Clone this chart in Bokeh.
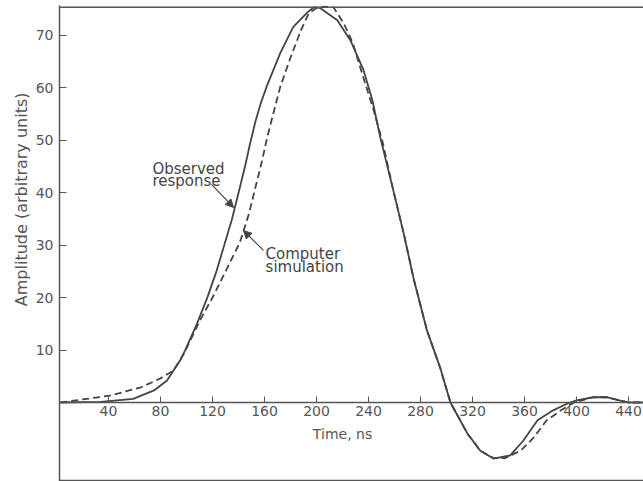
from bokeh.plotting import figure
from bokeh.models import Range1d, FixedTicker, Span, Label, Arrow, NormalHead, Title
from bokeh.embed import file_html
from bokeh.resources import INLINE

# Observed response (solid)
obs_x = [3, 34, 59, 75, 85, 95, 99, 108, 116, 123, 129, 135, 140, 145, 149, 153, 157, 162, 172, 182, 193, 198,
         203, 216, 226, 236, 243, 249, 259, 267, 275, 285, 295, 303, 316, 326, 336,
         349, 359, 370, 382, 393, 400, 413, 423, 433, 440, 451]
obs_y = [0, 0.1, 0.7, 2.3, 4.2, 8.0, 10.0, 15.0, 20.0, 25.0, 30.0, 35.0, 40.0, 45.0, 49.5, 53.6, 57.0, 60.5, 66.6, 71.6, 74.4, 75.4,
         75.2, 72.9, 69.1, 63.5, 57.6, 50.6, 40.5, 32.3, 23.3, 13.7, 6.7, 0.0, -5.9, -9.2, -10.7,
         -10.1, -7.3, -3.4, -1.5, -0.2, 0.4, 1.0, 1.0, 0.4, 0.0, 0.0]

# Computer simulation (dashed)
sim_x = [3, 41, 65, 80, 90, 98, 110, 121, 131, 141, 148, 153, 158, 162, 166, 172, 180, 188, 194, 201, 207,
         213, 221, 228, 236, 244, 251, 259, 267, 275, 285, 295, 303, 316, 326, 336, 345,
         357, 367, 377, 388, 398, 413, 423, 433, 440, 451]
sim_y = [0, 1.3, 2.9, 4.6, 6.1, 9.3, 15.5, 20.5, 25.5, 30.5, 36.0, 41.0, 46.0, 50.5, 54.4, 60.1, 65.8, 71.0, 74.2, 75.4, 75.5,
         75.4, 72.3, 68.5, 62.0, 55.7, 49.5, 40.5, 32.3, 23.3, 13.7, 6.7, 0.0, -5.9, -9.2, -10.6, -10.6,
         -9.2, -6.7, -3.4, -1.5, 0.0, 1.0, 1.0, 0.4, 0.0, 0.0]

x_ticks = [40, 80, 120, 160, 200, 240, 280, 320, 360, 400, 440]
y_ticks = [10, 20, 30, 40, 50, 60, 70]

INK = "#444444"
AXC = "#555555"
FONT = "DejaVu Sans"

p = figure(width=643, height=481, output_backend="svg", toolbar_location=None,
           x_range=Range1d(2.3, 451.5), y_range=Range1d(-15.07, 75.72),
           min_border_left=59, min_border_right=0, min_border_top=5, min_border_bottom=0,
           background_fill_color="white", border_fill_color="white")
p.outline_line_color = None
p.grid.visible = False

# y axis
ya = p.yaxis[0]
ya.ticker = FixedTicker(ticks=y_ticks)
ya.major_tick_in = 7
ya.major_tick_out = 0
ya.minor_tick_line_color = None
ya.axis_line_color = AXC
ya.axis_line_width = 1.5
ya.major_tick_line_color = AXC
ya.major_tick_line_width = 1.2
ya.major_label_text_font = FONT
ya.major_label_text_font_size = "14px"
ya.major_label_text_color = AXC
ya.major_label_standoff = 6

# y axis title (vertical, placed toward the top like the reference)
p.add_layout(Title(text="Amplitude (arbitrary units)", align="right", offset=87,
                   text_font=FONT, text_font_size="16px", text_font_style="normal",
                   text_color=AXC, standoff=4), "left")

# x axis at y = 0
xa = p.xaxis[0]
xa.fixed_location = 0
xa.ticker = FixedTicker(ticks=x_ticks)
xa.major_tick_in = 6
xa.major_tick_out = 0
xa.minor_tick_line_color = None
xa.axis_line_color = AXC
xa.axis_line_width = 1.5
xa.major_tick_line_color = AXC
xa.major_label_text_font = FONT
xa.major_label_text_font_size = "14px"
xa.major_label_text_color = AXC
xa.major_label_standoff = 4

p.add_layout(Label(x=220, y=-6.1, text="Time, ns", text_font=FONT, text_font_size="14px",
                   text_color=AXC, text_align="center", text_baseline="alphabetic"))

# frame lines
p.add_layout(Span(location=75.4, dimension="width", line_color=AXC, line_width=1.5))
p.add_layout(Span(location=-14.88, dimension="width", line_color=AXC, line_width=1.5))

p.line(obs_x, obs_y, line_color=INK, line_width=1.8)
p.line(sim_x, sim_y, line_color=INK, line_width=1.8, line_dash="7 4")

def lab(x, y, t):
    p.add_layout(Label(x=x, y=y, text=t, text_font=FONT, text_font_size="15px",
                       text_color=INK, text_align="left", text_baseline="alphabetic"))

lab(73.8, 44.6, "Observed")
lab(73.8, 42.2, "response")
lab(160.8, 28.4, "Computer")
lab(160.8, 25.8, "simulation")

p.add_layout(Arrow(x_start=119.2, y_start=41.6, x_end=136.2, y_end=37.2, line_color=INK,
                   line_width=1.2, end=NormalHead(size=8, fill_color=INK, line_color=INK)))
p.add_layout(Arrow(x_start=159.2, y_start=29.0, x_end=143.8, y_end=32.8, line_color=INK,
                   line_width=1.2, end=NormalHead(size=8, fill_color=INK, line_color=INK)))

open("out.html", "w").write(file_html(p, INLINE))
